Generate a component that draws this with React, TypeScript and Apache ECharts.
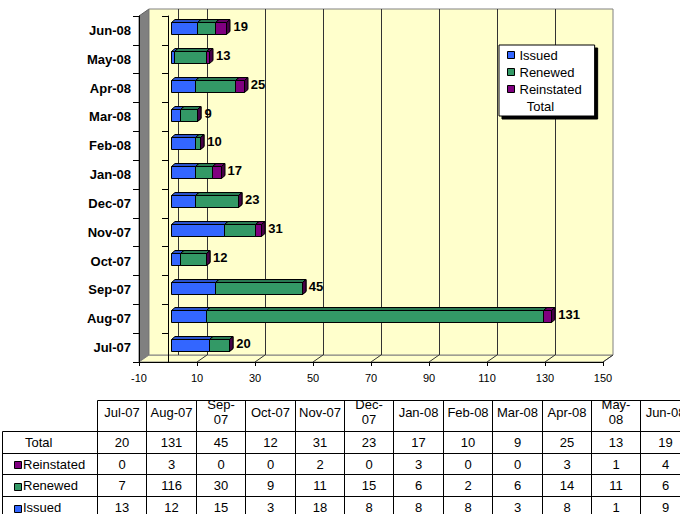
import React, { useEffect, useRef } from 'react';
import * as echarts from 'echarts';

// ---------- data ----------
const categories = ['Jul-07', 'Aug-07', 'Sep-07', 'Oct-07', 'Nov-07', 'Dec-07', 'Jan-08', 'Feb-08', 'Mar-08', 'Apr-08', 'May-08', 'Jun-08'];
const tableHeaders = ['Jul-07', 'Aug-07', 'Sep-\n07', 'Oct-07', 'Nov-07', 'Dec-\n07', 'Jan-08', 'Feb-08', 'Mar-08', 'Apr-08', 'May-\n08', 'Jun-08'];
const issued = [13, 12, 15, 3, 18, 8, 8, 8, 3, 8, 1, 9];
const renewed = [7, 116, 30, 9, 11, 15, 6, 2, 6, 14, 11, 6];
const reinstated = [0, 3, 0, 0, 2, 0, 3, 0, 0, 3, 1, 4];
const totals = [20, 131, 45, 12, 31, 23, 17, 10, 9, 25, 13, 19];
const X_MIN = -10;
const X_MAX = 150;
const X_STEP = 20;

// ---------- styles / layout ----------
const FONT = '"Liberation Sans", Arial, Helvetica, sans-serif';
const C_ISSUED = '#3366FF';
const C_RENEWED = '#339966';
const C_REINST = '#800080';
const WALL = '#FFFFCC';
const SIDE = '#808080';

const FRONT = { left: 139, top: 16, width: 464, height: 346 };
const DEPTH = { dx: 10, dy: -7 };
const BACK = { left: FRONT.left + DEPTH.dx, top: FRONT.top + DEPTH.dy, width: FRONT.width, height: FRONT.height };
const UNIT = FRONT.width / (X_MAX - X_MIN);
const BAR_SHIFT = [3.3, -2.3];
const BAR_DEPTH = [3.5, -3];
const BAR_FRAC = 0.4;
const LABEL_GAP = 3.5;

function shade(hex: string, f: number) {
  const n = parseInt(hex.slice(1), 16);
  const r = Math.round(((n >> 16) & 255) * f);
  const g = Math.round(((n >> 8) & 255) * f);
  const b = Math.round((n & 255) * f);
  return `rgb(${r},${g},${b})`;
}

function segmentSeries(name: string, color: string, starts: number[], ends: number[]) {
  return {
    type: 'custom',
    name,
    xAxisIndex: 1,
    yAxisIndex: 1,
    z: 3,
    itemStyle: { color },
    encode: { x: [1, 2], y: 0 },
    data: categories.map((_, i) => [i, starts[i], ends[i]]),
    renderItem: (params: any, api: any) => {
      const cat = api.value(0);
      const s = api.value(1);
      const e = api.value(2);
      const p0 = api.coord([s, cat]);
      const p1 = api.coord([e, cat]);
      const band = api.size([0, 1])[1];
      const h = Math.round(band * BAR_FRAC);
      const x0 = Math.round(p0[0] + BAR_SHIFT[0]) + 0.5;
      const x1 = Math.round(p1[0] + BAR_SHIFT[0]) + 0.5;
      const yt = Math.round(p0[1] + BAR_SHIFT[1] - h / 2) + 0.5;
      const yb = yt + h;
      const dx = BAR_DEPTH[0];
      const dy = BAR_DEPTH[1];
      return {
        type: 'group',
        children: [
          {
            type: 'polygon',
            shape: { points: [[x0, yt], [x0 + dx, yt + dy], [x1 + dx, yt + dy], [x1, yt]] },
            style: { fill: shade(color, 0.8), stroke: '#000', lineWidth: 1 },
          },
          {
            type: 'polygon',
            shape: { points: [[x1, yt], [x1 + dx, yt + dy], [x1 + dx, yb + dy], [x1, yb]] },
            style: { fill: shade(color, 0.55), stroke: '#000', lineWidth: 1 },
          },
          {
            type: 'rect',
            shape: { x: x0, y: yt, width: x1 - x0, height: h },
            style: { fill: color, stroke: '#000', lineWidth: 1 },
          },
        ],
      };
    },
  };
}

function buildOption() {
  const s1 = issued.map(() => 0);
  const e1 = issued.slice();
  const s2 = e1.slice();
  const e2 = issued.map((v, i) => v + renewed[i]);
  const s3 = e2.slice();
  const e3 = e2.map((v, i) => v + reinstated[i]);

  const frontBottom = FRONT.top + FRONT.height;
  const backBottom = BACK.top + BACK.height;

  const graphics: any[] = [];
  // side wall
  graphics.push({
    type: 'polygon',
    z: -1,
    shape: {
      points: [
        [FRONT.left, FRONT.top],
        [BACK.left, BACK.top],
        [BACK.left, backBottom],
        [FRONT.left, frontBottom],
      ],
    },
    style: { fill: SIDE, stroke: '#606060', lineWidth: 1 },
  });
  // floor
  graphics.push({
    type: 'polygon',
    z: -1,
    shape: {
      points: [
        [FRONT.left, frontBottom],
        [BACK.left, backBottom],
        [BACK.left + BACK.width, backBottom],
        [FRONT.left + FRONT.width, frontBottom],
      ],
    },
    style: { fill: WALL, stroke: '#808080', lineWidth: 1 },
  });
  // floor diagonals at ticks
  for (let v = X_MIN + X_STEP; v <= X_MAX; v += X_STEP) {
    const xf = FRONT.left + (v - X_MIN) * UNIT;
    graphics.push({
      type: 'line',
      z: 1,
      shape: { x1: xf, y1: frontBottom, x2: xf + DEPTH.dx, y2: backBottom },
      style: { stroke: '#333', lineWidth: 1 },
    });
  }
  // back wall zero line
  const xb0 = Math.round(BACK.left + (0 - X_MIN) * UNIT) + 0.5;
  graphics.push({
    type: 'line',
    z: 1,
    shape: { x1: xb0, y1: BACK.top, x2: xb0, y2: backBottom },
    style: { stroke: '#333', lineWidth: 1 },
  });

  // ---------- data table ----------
  const tTop = 400.5;
  const rowBounds = [tTop, 431.5, 453.5, 474.5, 496.5, 518.5];
  const tLeft = 2.5;
  const headRight = 97;
  const colW = 49.4;
  const colBounds = tableHeaders.map((_, i) => Math.round(headRight + i * colW) + 0.5);
  colBounds.push(Math.round(headRight + tableHeaders.length * colW) + 0.5);
  const tRight = colBounds[colBounds.length - 1];
  const lineStyle = { stroke: '#000', lineWidth: 1 };
  const tbl: any[] = [];
  tbl.push({ type: 'line', shape: { x1: colBounds[0], y1: rowBounds[0], x2: tRight, y2: rowBounds[0] }, style: lineStyle });
  for (let r = 1; r < rowBounds.length; r++) {
    tbl.push({ type: 'line', shape: { x1: tLeft, y1: rowBounds[r], x2: tRight, y2: rowBounds[r] }, style: lineStyle });
  }
  tbl.push({ type: 'line', shape: { x1: tLeft, y1: rowBounds[1], x2: tLeft, y2: rowBounds[5] }, style: lineStyle });
  colBounds.forEach((x) => {
    tbl.push({ type: 'line', shape: { x1: x, y1: rowBounds[0], x2: x, y2: rowBounds[5] }, style: lineStyle });
  });
  tableHeaders.forEach((h, i) => {
    tbl.push({
      type: 'text',
      x: (colBounds[i] + colBounds[i + 1]) / 2,
      y: 412,
      style: { text: h, fill: '#000', font: `13px ${FONT}`, align: 'center', verticalAlign: 'middle', lineHeight: 15 },
    });
  });
  const rows = [
    { label: 'Total', values: totals, color: null as string | null },
    { label: 'Reinstated', values: reinstated, color: C_REINST },
    { label: 'Renewed', values: renewed, color: C_RENEWED },
    { label: 'Issued', values: issued, color: C_ISSUED },
  ];
  rows.forEach((row, r) => {
    const yc = (rowBounds[r + 1] + rowBounds[r + 2]) / 2;
    if (row.color) {
      tbl.push({
        type: 'rect',
        shape: { x: 14.5, y: Math.round(yc - 3) + 0.5, width: 7, height: 7 },
        style: { fill: row.color, stroke: '#000', lineWidth: 1 },
      });
    }
    tbl.push({
      type: 'text',
      x: row.color ? 23 : 25,
      y: yc,
      style: { text: row.label, fill: '#000', font: `13px ${FONT}`, align: 'left', verticalAlign: 'middle' },
    });
    row.values.forEach((v, i) => {
      tbl.push({
        type: 'text',
        x: (colBounds[i] + colBounds[i + 1]) / 2,
        y: yc,
        style: { text: String(v), fill: '#000', font: `13px ${FONT}`, align: 'center', verticalAlign: 'middle' },
      });
    });
  });
  graphics.push({ type: 'group', children: tbl });

  return {
    animation: false,
    backgroundColor: '#fff',
    textStyle: { fontFamily: FONT },
    grid: [
      { ...BACK, show: true, backgroundColor: WALL, borderColor: '#808080', borderWidth: 1 },
      { ...FRONT },
      { ...FRONT },
    ],
    xAxis: [
      {
        gridIndex: 0, type: 'value', min: X_MIN, max: X_MAX, interval: X_STEP,
        axisLine: { show: false }, axisTick: { show: false }, axisLabel: { show: false },
        splitLine: { show: true, showMinLine: false, showMaxLine: false, lineStyle: { color: '#333', width: 1 } },
      },
      {
        gridIndex: 1, type: 'value', min: X_MIN, max: X_MAX, interval: X_STEP,
        axisLine: { show: true, onZero: false, lineStyle: { color: '#000', width: 1 } },
        axisTick: { show: true, length: 4, lineStyle: { color: '#000' } },
        axisLabel: { show: true, fontSize: 11, color: '#000', margin: 10, fontFamily: FONT },
        splitLine: { show: false },
      },
      {
        gridIndex: 2, type: 'value', min: X_MIN, max: X_MAX, interval: X_STEP, show: false,
      },
    ],
    yAxis: [
      { gridIndex: 0, type: 'category', data: categories, show: false },
      {
        gridIndex: 1, type: 'category', data: categories,
        axisLine: { show: true, onZero: false, lineStyle: { color: '#000', width: 1 } },
        axisTick: { show: true, length: 6, lineStyle: { color: '#000' } },
        axisLabel: { show: true, fontSize: 13, fontWeight: 'bold', color: '#000', margin: 8, fontFamily: FONT },
        splitLine: { show: false },
      },
      {
        gridIndex: 2, type: 'category', data: categories,
        axisLine: { show: true, onZero: true, lineStyle: { color: '#000', width: 1 } },
        axisTick: { show: true, length: 6, lineStyle: { color: '#000' } },
        axisLabel: { show: false },
        splitLine: { show: false },
      },
    ],
    legend: {
      orient: 'vertical',
      left: 499,
      top: 45,
      data: ['Issued', 'Renewed', 'Reinstated', { name: 'Total', icon: 'none' }],
      formatter: (n: string) => (n === 'Total' ? '\u00a0\u00a0' + n : n),
      icon: 'rect',
      itemWidth: 7,
      itemHeight: 7,
      itemGap: 3,
      itemStyle: { borderColor: '#000', borderWidth: 1 },
      textStyle: { fontSize: 13, color: '#000', fontFamily: FONT, lineHeight: 14 },
      backgroundColor: '#fff',
      borderColor: '#000',
      borderWidth: 1,
      padding: [3, 13, 3, 8],
      shadowColor: '#000',
      shadowOffsetX: 3,
      shadowOffsetY: 3,
      shadowBlur: 0,
      selectedMode: false,
    },
    graphic: graphics,
    series: [
      segmentSeries('Issued', C_ISSUED, s1, e1),
      segmentSeries('Renewed', C_RENEWED, s2, e2),
      segmentSeries('Reinstated', C_REINST, s3, e3),
      {
        type: 'custom',
        name: 'Total',
        xAxisIndex: 1,
        yAxisIndex: 1,
        z: 4,
        itemStyle: { color: 'transparent' },
        encode: { x: 1, y: 0 },
        data: categories.map((_, i) => [i, totals[i]]),
        renderItem: (params: any, api: any) => {
          const cat = api.value(0);
          const t = api.value(1);
          const p = api.coord([t, cat]);
          return {
            type: 'text',
            x: p[0] + BAR_SHIFT[0] + BAR_DEPTH[0] + LABEL_GAP,
            y: p[1] + BAR_SHIFT[1] + BAR_DEPTH[1] / 2,
            style: { text: String(t), fill: '#000', font: `bold 13px ${FONT}`, align: 'left', verticalAlign: 'middle' },
          };
        },
      },
    ],
  };
}

export default function App() {
  const ref = useRef<HTMLDivElement>(null);
  useEffect(() => {
    document.body.style.margin = '0';
    if (!ref.current) return;
    const chart = echarts.init(ref.current, undefined, { renderer: 'svg' });
    chart.setOption(buildOption() as any);
    return () => chart.dispose();
  }, []);
  return <div ref={ref} style={{ width: 680, height: 514 }} />;
}
